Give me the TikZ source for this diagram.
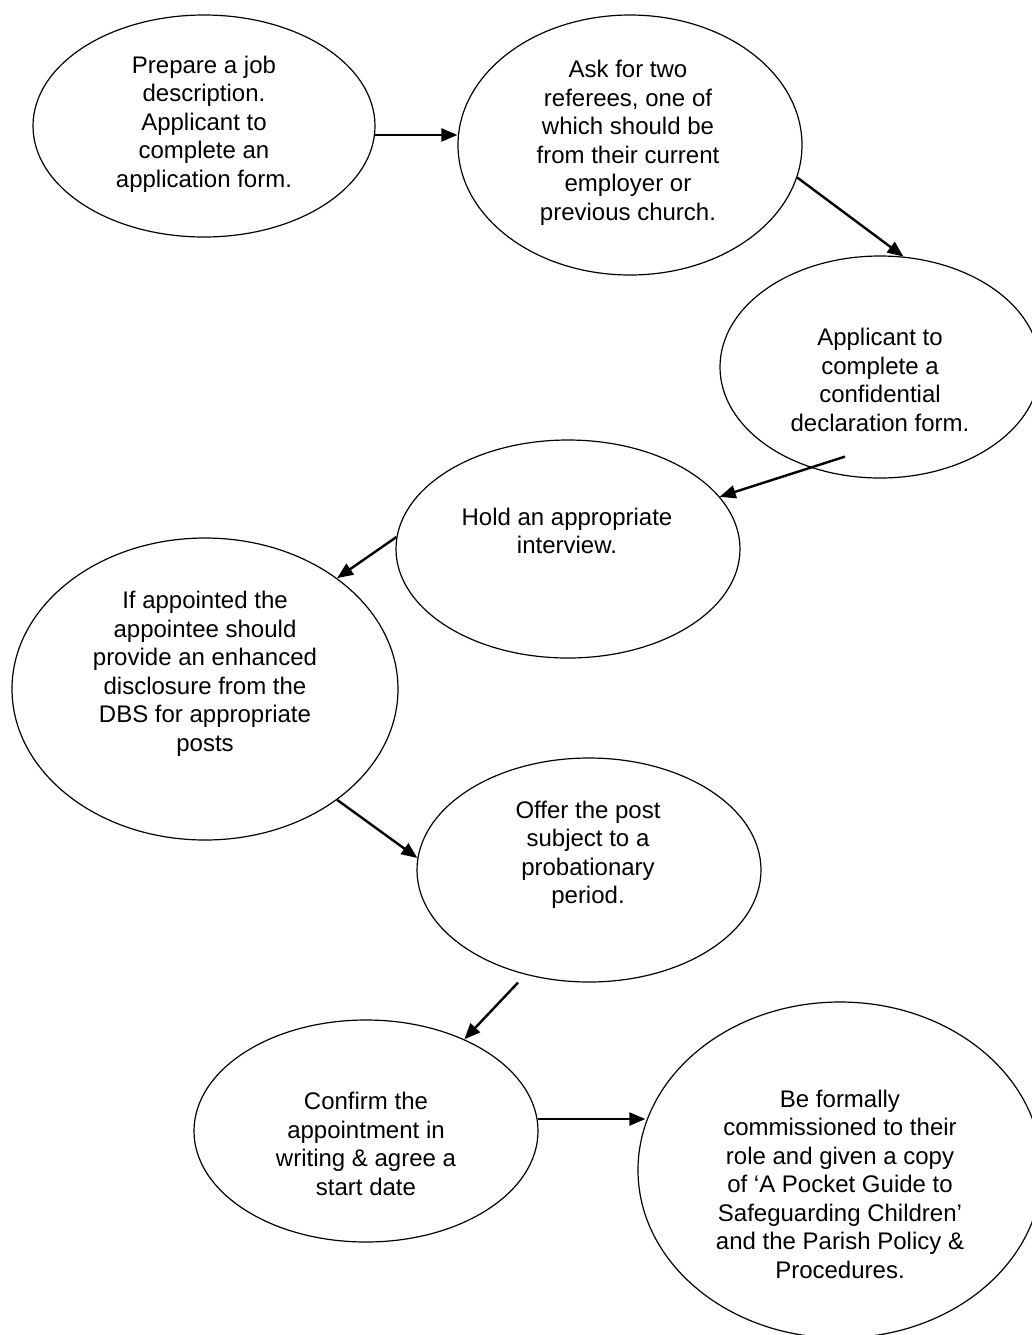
\documentclass[tikz,border=0pt]{standalone}
\usepackage{fontspec}
\setmainfont{Liberation Sans}
\usetikzlibrary{arrows.meta, shapes.geometric}

\begin{document}
\begin{tikzpicture}[x=0.5pt, y=-0.5pt,
  stage/.style={draw, ellipse, line width=0.6pt, inner sep=0pt},
  stagetext/.style={align=center, inner sep=0pt, font=\fontsize{12}{14.25}\selectfont},
  flow/.style={-{Triangle[length=8pt,width=6.5pt]}, line width=1.2pt}]
\useasboundingbox (0,0) rectangle (1032,1335);
% stage outlines: name/x/y/half width/half height (pixels, y downwards)
\foreach \n/\x/\y/\rx/\ry in {prep/204/126/171/111, refs/630/145/172/130,
    decl/880/367/160/111, interview/568/549/172/109, dbs/205/689/193/151,
    offer/589/870/172/112, confirm/366/1131/172/111, commission/840/1170/202/168}
  { \node[stage, minimum width=\rx pt, minimum height=\ry pt] (\n) at (\x,\y) {}; }
% texts
\node[stagetext] (prep-txt) at (204,124) {Prepare a job\\description.\\Applicant to\\complete an\\application form.};
\node[stagetext] (refs-txt) at (628,143) {Ask for two\\referees, one of\\which should be\\from their current\\employer or\\previous church.};
\node[stagetext] (decl-txt) at (880,380) {Applicant to\\complete a\\confidential\\declaration form.};
\node[stagetext] (interview-txt) at (567,531) {Hold an appropriate\\interview.};
\node[stagetext] (dbs-txt) at (205,674) {If appointed the\\appointee should\\provide an enhanced\\disclosure from the\\DBS for appropriate\\posts};
\node[stagetext] (offer-txt) at (588,855) {Offer the post\\subject to a\\probationary\\period.};
\node[stagetext] (confirm-txt) at (366,1144) {Confirm the\\appointment in\\writing \& agree a\\start date};
\node[stagetext] (commission-txt) at (840,1184) {Be formally\\commissioned to their\\role and given a copy\\of ‘A Pocket Guide to\\Safeguarding Children’\\and the Parish Policy \&\\Procedures.};
% arrows
\draw[flow] (prep.-3) -- (prep.-3 -| refs.west);
\draw[flow] (refs.-11) -- (decl.78);
\draw[flow] ([shift={(-35,-22)}]decl.south) -- (interview.19);
\draw[flow] (interview.176) -- (dbs.40);
\draw[flow] (dbs.-40) -- (offer.176);
\draw[flow] ([xshift=-35.5pt]offer.south) -- (confirm.43);
\draw[flow] (confirm.4) -- ([xshift=4pt]confirm.4 -| commission.west);
\end{tikzpicture}
\end{document}
